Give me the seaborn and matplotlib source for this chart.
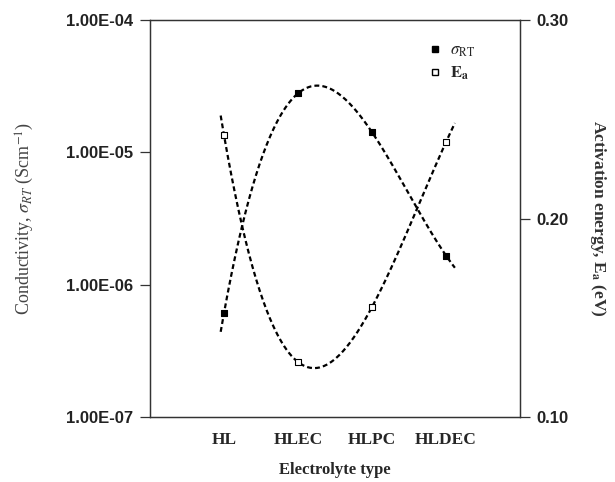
import numpy as np
import pandas as pd
import matplotlib
matplotlib.use("Agg")
import matplotlib.pyplot as plt
import seaborn as sns
from matplotlib.lines import Line2D

categories = ["HL", "HLEC", "HLPC", "HLDEC"]
sigma_rt = [6.1e-7, 2.79e-5, 1.42e-5, 1.66e-6]
act_energy = [0.242, 0.1277, 0.1554, 0.2385]
left_ticks = [1e-7, 1e-6, 1e-5, 1e-4]
left_tick_labels = ["1.00E-07", "1.00E-06", "1.00E-05", "1.00E-04"]
right_ticks = [0.10, 0.20, 0.30]
right_tick_labels = ["0.10", "0.20", "0.30"]

sns.set_theme(style="white")
plt.rcParams["font.family"] = ["Liberation Sans", "DejaVu Sans"]
plt.rcParams["mathtext.fontset"] = "stix"

xpos = np.arange(1, len(categories) + 1)
df = pd.DataFrame({"x": xpos, "cat": categories, "sigma": sigma_rt, "ea": act_energy})

# cubic polynomial trend lines (with small forecast on both sides)
xs = np.linspace(0.955, 4.12, 200)
cs = np.polyfit(xpos, np.log10(sigma_rt), 3)
ce = np.polyfit(xpos, act_energy, 3)
trend = pd.DataFrame({"x": xs, "sigma": 10 ** np.polyval(cs, xs), "ea": np.polyval(ce, xs)})

fig = plt.figure(figsize=(6.15, 4.82), dpi=100)
ax = fig.add_axes([150 / 615, 65 / 482, 370 / 615, 397 / 482])
ax2 = ax.twinx()

sns.lineplot(data=trend, x="x", y="sigma", ax=ax, color="black", lw=1.6,
             linestyle=(0, (2.2, 1.4)), sort=False)
sns.scatterplot(data=df, x="x", y="sigma", ax=ax, marker="s", s=22,
                color="black", edgecolor="black", linewidth=0.8, zorder=5)
sns.lineplot(data=trend, x="x", y="ea", ax=ax2, color="black", lw=1.6,
             linestyle=(0, (2.2, 1.4)), sort=False)
sns.scatterplot(data=df, x="x", y="ea", ax=ax2, marker="s", s=22,
                color="white", edgecolor="black", linewidth=0.8, zorder=5)

ax.set_yscale("log")
ax.set_ylim(1e-7, 1e-4)
ax.set_xlim(0, 5)
ax.set_yticks(left_ticks)
ax.set_yticklabels(left_tick_labels)
ax.yaxis.set_minor_locator(matplotlib.ticker.NullLocator())
ax2.set_ylim(0.10, 0.30)
ax2.set_yticks(right_ticks)
ax2.set_yticklabels(right_tick_labels)

ax.set_xticks(xpos)
ax.set_xticklabels(categories, family="Liberation Serif", fontweight="bold", fontsize=12.5)

for a in (ax, ax2):
    for s in a.spines.values():
        s.set_color("#333333")
        s.set_linewidth(0.9)

ax.tick_params(axis="x", direction="in", length=6, width=0.9, color="#333333", pad=11)
ax.tick_params(axis="y", direction="out", length=7, width=0.9, color="#333333", pad=5,
               labelsize=12, labelcolor="#222222")
ax2.tick_params(axis="y", direction="out", length=7, width=0.9, color="#333333", pad=5,
                labelsize=12, labelcolor="#222222")
for lab in ax.get_yticklabels() + ax2.get_yticklabels():
    lab.set_fontweight("bold")

ax.set_xlabel("Electrolyte type", family="Liberation Serif", fontweight="bold",
              fontsize=12, labelpad=10)
ax.set_ylabel(r"Conductivity, $\sigma_{RT}$ (Scm$^{-1}$)", family="Liberation Serif",
              fontsize=13, color="#444444", labelpad=22)
ax2.set_ylabel(r"Activation energy, E$_\mathbf{a}$ (eV)", family="Liberation Serif",
               fontweight="bold", fontsize=12.5, color="#333333", rotation=270, labelpad=28)

handles = [
    Line2D([], [], marker="s", ls="none", markersize=4.5, markerfacecolor="black",
           markeredgecolor="black"),
    Line2D([], [], marker="s", ls="none", markersize=4.5, markerfacecolor="white",
           markeredgecolor="black"),
]
leg = ax.legend(handles, [r"$\sigma_{\mathrm{RT}}$", r"$\mathbf{E}_{\mathbf{a}}$"],
                loc="upper right", bbox_to_anchor=(0.92, 0.98), frameon=False,
                handlelength=0.8, handletextpad=0.5, labelspacing=0.3, fontsize=12)

fig.savefig("out.png", dpi=100)
